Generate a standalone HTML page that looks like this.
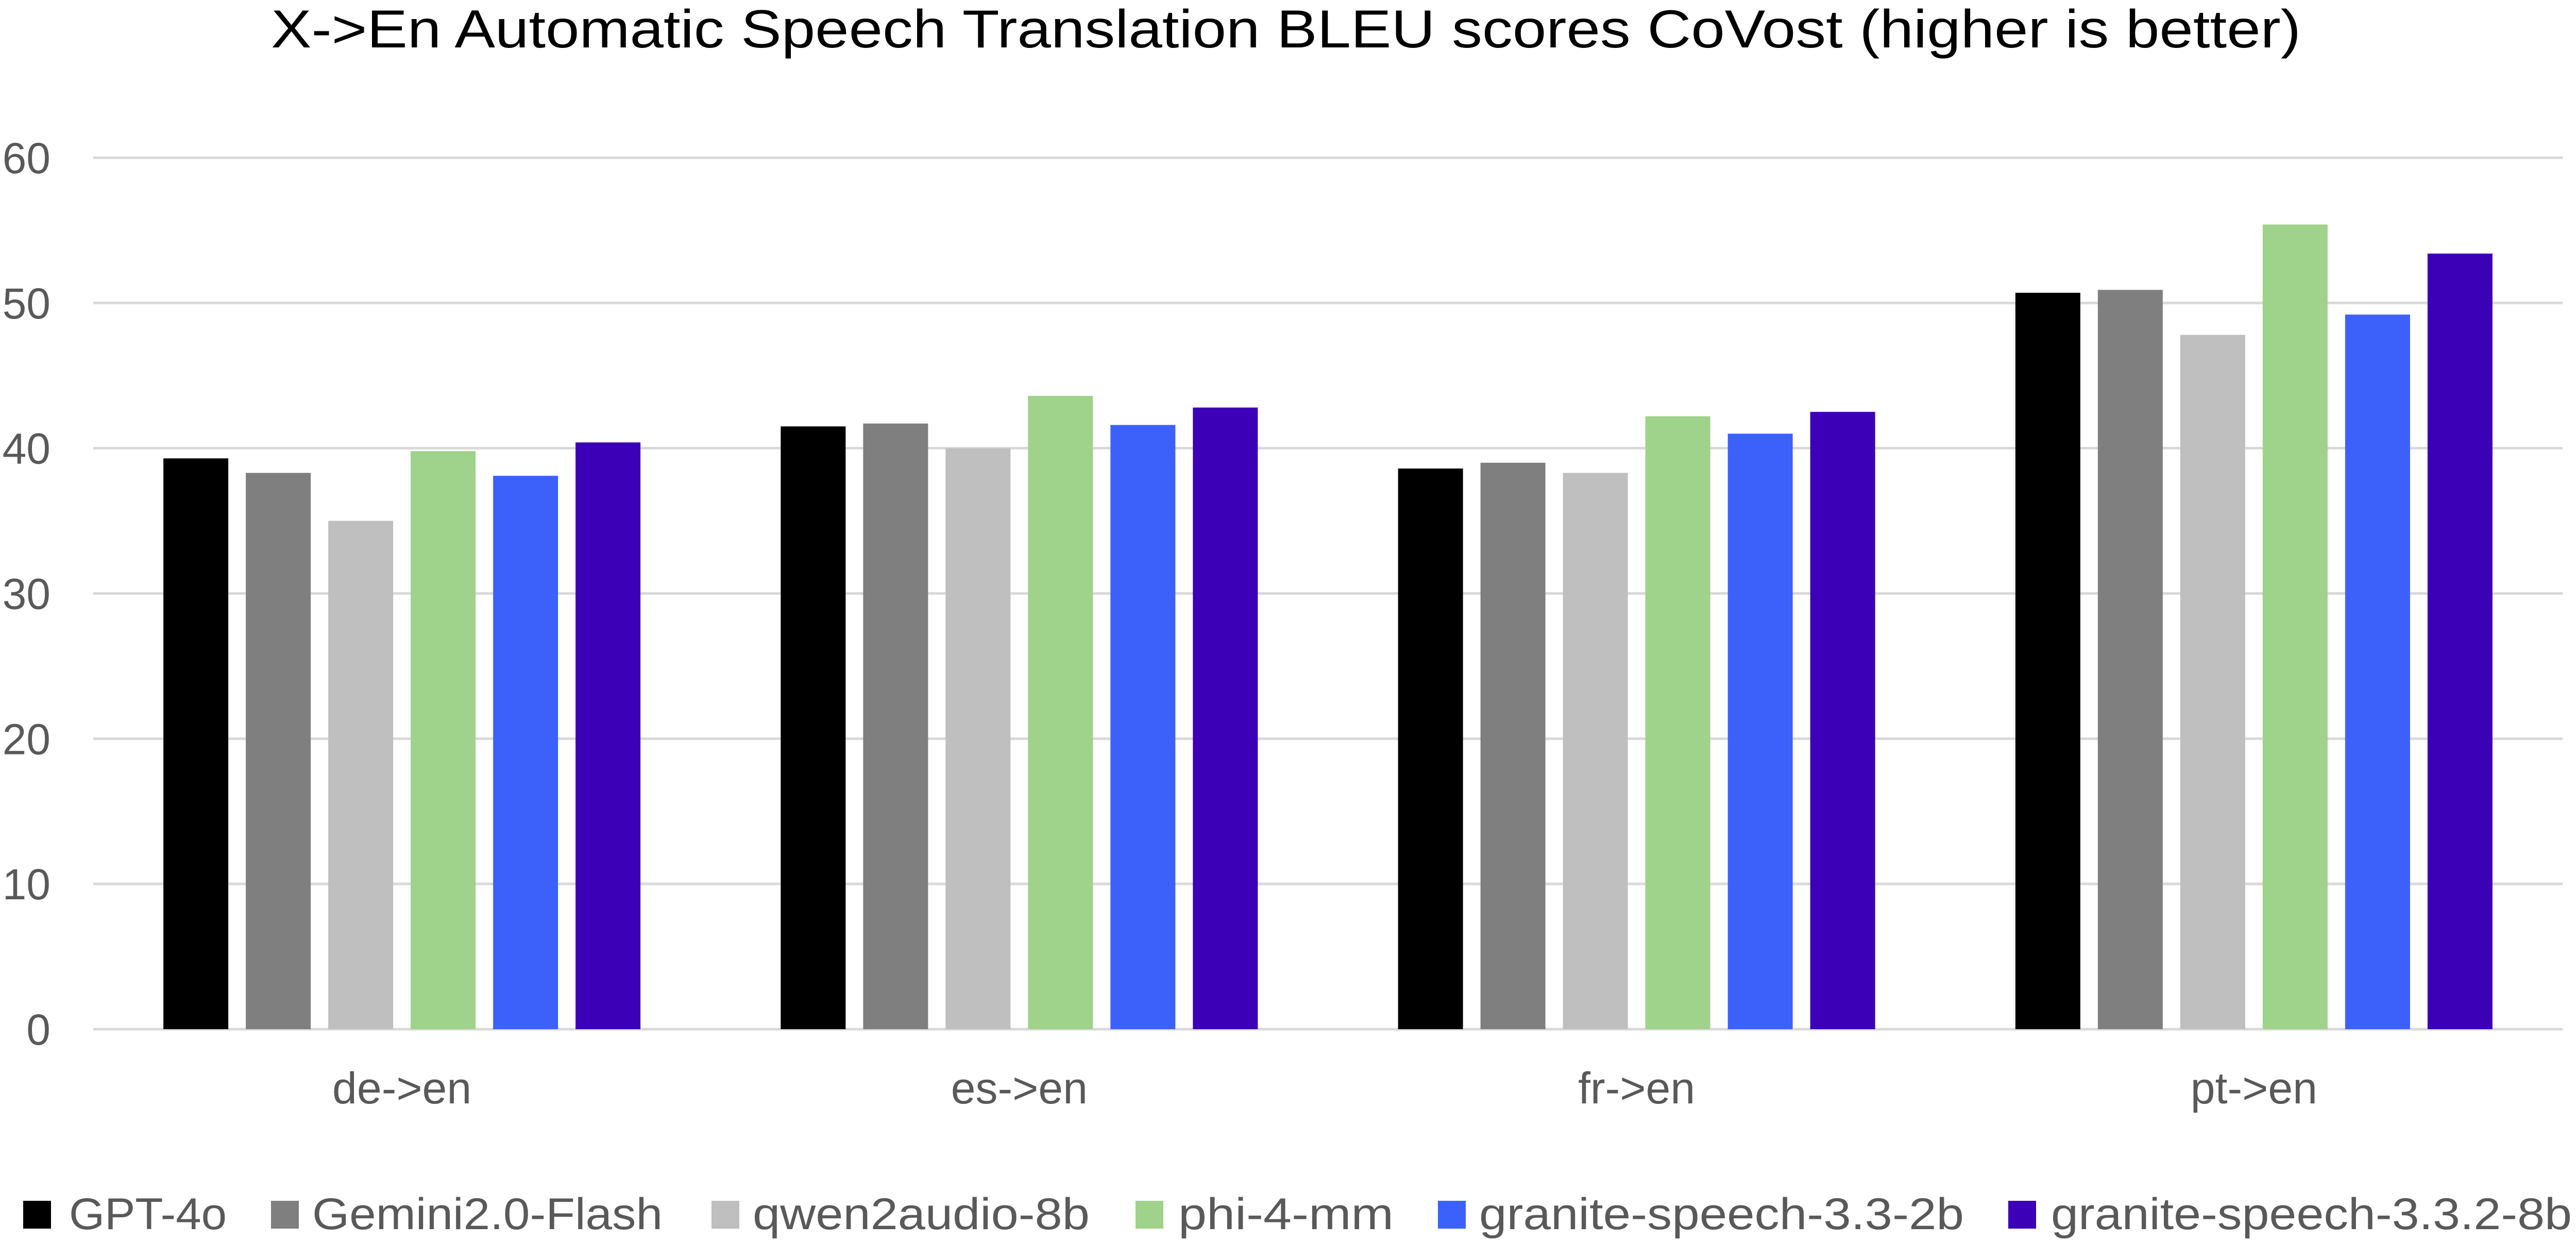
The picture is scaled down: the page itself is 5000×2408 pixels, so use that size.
<!DOCTYPE html>
<html><head><meta charset="utf-8"><style>
html,body{margin:0;padding:0;background:#fff;}
svg{display:block;font-family:"Liberation Sans",sans-serif;}
</style></head><body>
<svg id="chart" width="5000" height="2408" viewBox="0 0 5000 2408" xmlns="http://www.w3.org/2000/svg">
<text x="526" y="92" font-size="104" fill="#000" textLength="3940" lengthAdjust="spacingAndGlyphs">X-&gt;En Automatic Speech Translation BLEU scores CoVost (higher is better)</text>
<g id="grid"></g>
<g id="yticks"></g>
<g id="bars"></g>
<g id="xlabels"></g>
<g id="legend"></g>
</svg>
<script>
const categories = ["de->en", "es->en", "fr->en", "pt->en"];
const seriesNames = ["GPT-4o", "Gemini2.0-Flash", "qwen2audio-8b", "phi-4-mm", "granite-speech-3.3-2b", "granite-speech-3.3.2-8b"];
const gpt4o = [39.3, 41.5, 38.6, 50.7];
const gemini = [38.3, 41.7, 39.0, 50.9];
const qwen = [35.0, 40.0, 38.3, 47.8];
const phi = [39.8, 43.6, 42.2, 55.4];
const granite2b = [38.1, 41.6, 41.0, 49.2];
const granite8b = [40.4, 42.8, 42.5, 53.4];
const yTicks = [0, 10, 20, 30, 40, 50, 60];

const series = [gpt4o, gemini, qwen, phi, granite2b, granite8b];
const colors = ["#000000", "#7f7f7f", "#bfbfbf", "#9fd28a", "#3c61fb", "#3c00b7"];
const NS = "http://www.w3.org/2000/svg";
const plotL = 181, plotR = 4974, y0 = 1997, y60 = 306;
const yMax = 60;
function yScale(v){ return y0 - (v / yMax) * (y0 - y60); }
const groupW = (plotR - plotL) / categories.length;
function groupCenter(i){ return plotL + groupW * (i + 0.5); }
const pitch = 160, barW = 126;
function mk(tag, attrs, parent){ const e = document.createElementNS(NS, tag); for (const k in attrs) e.setAttribute(k, attrs[k]); parent.appendChild(e); return e; }

const grid = document.getElementById('grid'), yt = document.getElementById('yticks');
yTicks.forEach(t => {
  const l = mk('line', {x1: plotL, x2: plotR, y1: yScale(t), y2: yScale(t), stroke: '#d9d9d9', 'stroke-width': 5}, grid);
  
  
  const tx = mk('text', {x: 98, y: yScale(t) + 30, 'text-anchor': 'end', 'font-size': 84, fill: '#595959'}, yt);
  tx.textContent = String(t);
  
  
});

const bars = document.getElementById('bars'), xl = document.getElementById('xlabels');
categories.forEach((c, i) => {
  const cx = groupCenter(i);
  series.forEach((s, j) => {
    const x = cx - (series.length * pitch - (pitch - barW)) / 2 + j * pitch;
    const r = mk('rect', {x: x, y: yScale(s[i]), width: barW, height: y0 - yScale(s[i]), fill: colors[j]}, bars);
    
    
  });
  const t = mk('text', {x: cx, y: 2141, 'text-anchor': 'middle', 'font-size': 86, fill: '#595959'}, xl);
  t.textContent = c;
  
  
});

const leg = document.getElementById('legend');
const legSq = [45, 526, 1381, 2204, 2791, 3898];
const legTx = [[134, 306], [606, 680], [1461, 654], [2287, 418], [2871, 941], [3981, 1011]];
seriesNames.forEach((n, j) => {
  const r = mk('rect', {x: legSq[j], y: 2330, width: 54, height: 54, fill: colors[j]}, leg);
  
  
  const t = mk('text', {x: legTx[j][0], y: 2385, 'font-size': 86, fill: '#595959', textLength: legTx[j][1], lengthAdjust: 'spacingAndGlyphs'}, leg);
  t.textContent = n;
  
  
});
</script>
</body></html>
